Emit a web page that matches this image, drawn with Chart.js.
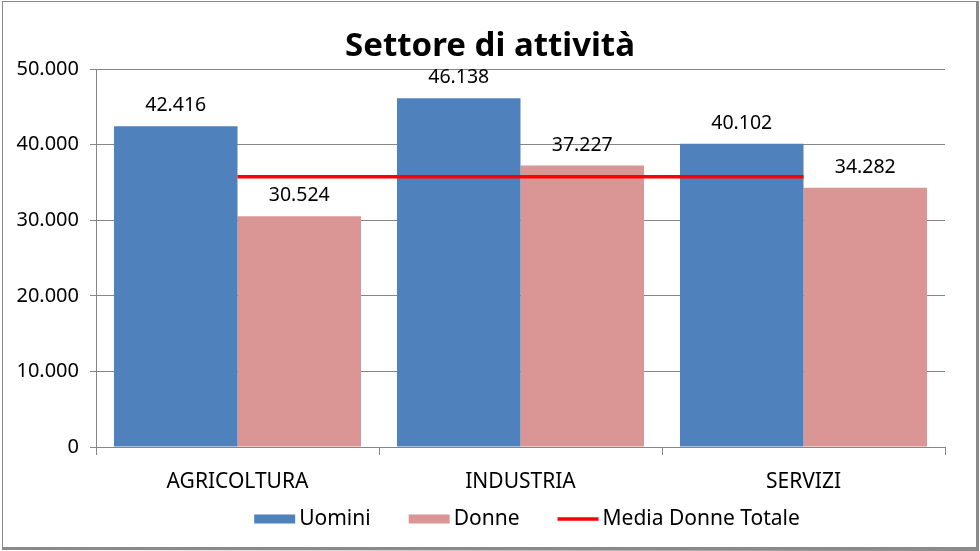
<!DOCTYPE html>
<html>
<head>
<meta charset="utf-8">
<script src="https://cdn.jsdelivr.net/npm/chart.js@4"></script>
<style>
  body { margin: 0; background: #fff; }
  #wrap { position: relative; width: 980px; height: 551px; }
</style>
</head>
<body>
<div id="wrap"><canvas id="myChart"></canvas></div>
<script>
const categories = ['AGRICOLTURA', 'INDUSTRIA', 'SERVIZI'];
const uomini = [42416, 46138, 40102];
const donne = [30524, 37227, 34282];
const mediaDonne = [35750, 35750, 35750];
const yTicks = [0, 10000, 20000, 30000, 40000, 50000];

const FONT = "'Noto Sans', 'Open Sans', sans-serif";

function fmt(v) {
    return String(v).replace(/\B(?=(\d{3})+(?!\d))/g, '.');
}

// frame with the shadow on right/bottom
const framePlugin = {
    id: 'frame',
    afterDraw(chart) {
        const ctx = chart.ctx;
        ctx.save();
        ctx.strokeStyle = '#8a8a8a';
        ctx.lineWidth = 1;
        ctx.strokeRect(2.5, 1.5, 974, 546);
        ctx.lineWidth = 3;
        ctx.beginPath();
        ctx.moveTo(977.5, 1); ctx.lineTo(977.5, 549.5);
        ctx.lineTo(2, 549.5 - 1);
        ctx.stroke();
        ctx.restore();
    }
};

// value labels above bars
const barLabels = {
    id: 'barLabels',
    afterDatasetsDraw(chart) {
        const ctx = chart.ctx;
        ctx.save();
        ctx.font = '19.5px ' + FONT;
        ctx.fillStyle = '#000';
        ctx.textAlign = 'center';
        ctx.textBaseline = 'alphabetic';
        [0, 1].forEach(i => {
            const meta = chart.getDatasetMeta(i);
            meta.data.forEach((bar, j) => {
                ctx.fillText(fmt(chart.data.datasets[i].data[j]), bar.x, bar.y - 15);
            });
        });
        ctx.restore();
    }
};

// legend drawn like the excel one (box, small gap, text, wide gap)
const legendPlugin = {
    id: 'xlLegend',
    afterDraw(chart) {
        const ctx = chart.ctx;
        const ds = chart.data.datasets;
        const y = 519;
        const boxW = 41, gapText = 4, gapItem = 38;
        ctx.save();
        ctx.font = '21px ' + FONT;
        let total = 0;
        const widths = ds.map(d => ctx.measureText(d.label).width);
        widths.forEach((w, i) => { total += boxW + gapText + w + (i < ds.length - 1 ? gapItem : 0); });
        let x = 527 - total / 2;
        ctx.textBaseline = 'middle';
        ctx.textAlign = 'left';
        ds.forEach((d, i) => {
            if (d.type === 'line') {
                ctx.strokeStyle = d.borderColor;
                ctx.lineWidth = d.borderWidth;
                ctx.beginPath();
                ctx.moveTo(x, y); ctx.lineTo(x + boxW, y);
                ctx.stroke();
            } else {
                ctx.fillStyle = d.backgroundColor;
                ctx.fillRect(x, y - 4.5, boxW, 9);
            }
            x += boxW + gapText;
            ctx.fillStyle = '#000';
            ctx.fillText(d.label, x, y);
            x += widths[i] + gapItem;
        });
        ctx.restore();
    }
};

const ctx = document.getElementById('myChart').getContext('2d');
const chart = new Chart(ctx, {
    type: 'bar',
    data: {
        labels: categories,
        datasets: [{
            label: 'Uomini',
            data: uomini,
            backgroundColor: '#4F81BD',
            borderWidth: 0,
            order: 1
        }, {
            label: 'Donne',
            data: donne,
            backgroundColor: '#D99694',
            borderWidth: 0,
            order: 1
        }, {
            type: 'line',
            label: 'Media Donne Totale',
            data: mediaDonne,
            borderColor: '#FF0000',
            backgroundColor: '#FF0000',
            borderWidth: 3.5,
            pointRadius: 0,
            order: 0
        }]
    },
    options: {
        responsive: true,
        maintainAspectRatio: false,
        animation: false,
        categoryPercentage: 0.873,
        barPercentage: 1,
        layout: { padding: { left: 0, right: 0, top: 0, bottom: 0 } },
        plugins: {
            tooltip: { enabled: false },
            legend: { display: false },
            title: {
                display: true,
                text: 'Settore di attività',
                color: '#000',
                font: { family: FONT, size: 33, weight: 'bold', lineHeight: 1.2 },
                padding: { top: 27, bottom: 2.4 }
            }
        },
        scales: {
            x: {
                grid: {
                    display: true,
                    offset: true,
                    drawOnChartArea: false,
                    drawTicks: true,
                    tickLength: 8,
                    color: '#868686'
                },
                border: { color: '#868686' },
                ticks: {
                    color: '#000',
                    font: { family: FONT, size: 21 },
                    padding: 14
                },
                afterFit(scale) { scale.height = 104; }
            },
            y: {
                min: 0,
                max: 50000,
                afterBuildTicks(scale) {
                    scale.ticks = yTicks.map(v => ({ value: v }));
                },
                grid: {
                    color: '#868686',
                    tickLength: 6,
                    drawTicks: true
                },
                border: { color: '#868686' },
                ticks: {
                    color: '#000',
                    font: { family: FONT, size: 20 },
                    padding: 11,
                    callback: v => fmt(v)
                },
                afterFit(scale) { scale.width = 96; }
            },
            y2: {
                position: 'right',
                display: true,
                grid: { display: false },
                border: { display: false },
                ticks: { display: false },
                afterFit(scale) { scale.width = 35; }
            }
        }
    },
    plugins: [barLabels, legendPlugin, framePlugin]
});
</script>
</body>
</html>
